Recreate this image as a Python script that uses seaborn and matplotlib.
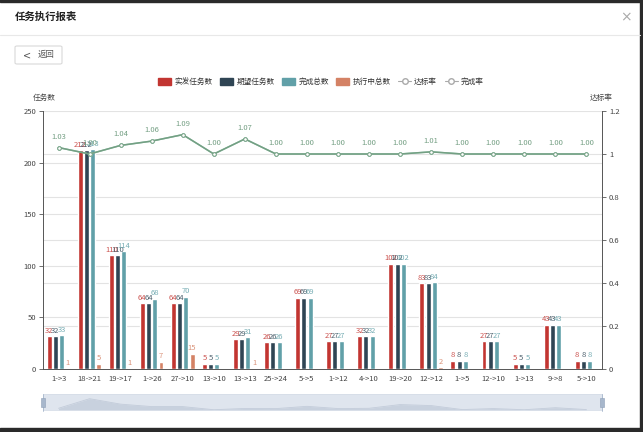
import numpy as np
import pandas as pd
import matplotlib
matplotlib.use("Agg")
import matplotlib.pyplot as plt
from matplotlib.patches import Rectangle, FancyBboxPatch, Patch
from matplotlib.lines import Line2D
import seaborn as sns

categories = ["1->3", "18->21", "19->17", "1->26", "27->10", "13->10", "13->13", "25->24", "5->5",
              "1->12", "4->10", "19->20", "12->12", "1->5", "12->10", "1->13", "9->8", "5->10"]
issued = [32, 212, 110, 64, 64, 5, 29, 26, 69, 27, 32, 102, 83, 8, 27, 5, 43, 8]
expected = [32, 212, 110, 64, 64, 5, 29, 26, 69, 27, 32, 102, 83, 8, 27, 5, 43, 8]
completed = [33, 213, 114, 68, 70, 5, 31, 26, 69, 27, 32, 102, 84, 8, 27, 5, 43, 8]
running = [1, 5, 1, 7, 15, 0, 1, 0, 0, 0, 0, 0, 2, 0, 0, 0, 0, 0]
reach_rate = [1.03, 1.00, 1.04, 1.06, 1.09, 1.00, 1.07, 1.00, 1.00, 1.00, 1.00, 1.00, 1.01, 1.00, 1.00, 1.00, 1.00, 1.00]
finish_rate = [1.03, 1.00, 1.04, 1.06, 1.09, 1.00, 1.07, 1.00, 1.00, 1.00, 1.00, 1.00, 1.01, 1.00, 1.00, 1.00, 1.00, 1.00]
bar_series = ["实发任务数", "期望任务数", "完成总数", "执行中总数"]
line_series = ["达标率", "完成率"]
left_ticks = [0, 50, 100, 150, 200, 250]
right_ticks = [0, 0.2, 0.4, 0.6, 0.8, 1.0, 1.2]

bar_colors = ["#c23531", "#2f4554", "#61a0a8", "#d48265"]
line_colors = ["#91c7ae", "#749f83"]

sns.set_style("white")
plt.rcParams["font.family"] = ["Noto Sans CJK SC", "DejaVu Sans"]
plt.rcParams["axes.unicode_minus"] = False

W, H = 643, 432
fig = plt.figure(figsize=(W / 100, H / 100), dpi=100)
fig.patch.set_facecolor("white")

def fx(px):
    return px / W

def fy(py):
    return 1 - py / H

# dark screenshot frame
fig.patches.append(Rectangle((fx(640), 0), 1, 1, transform=fig.transFigure, color="#2a2a2a", zorder=0))
fig.patches.append(Rectangle((0, 0), 1, fy(428), transform=fig.transFigure, color="#2a2a2a", zorder=0))
fig.patches.append(Rectangle((0, fy(2)), 1, 1, transform=fig.transFigure, color="#2a2a2a", zorder=0))

# header
fig.text(fx(15), fy(17), "任务执行报表", fontsize=7.5, fontweight="bold", color="#222", va="center", ha="left")
fig.text(fx(626), fy(17), "×", fontsize=10, color="#aaa", va="center", ha="center", family=["DejaVu Sans"])
fig.lines.append(Line2D([0, fx(640)], [fy(35), fy(35)], transform=fig.transFigure, color="#e8e8e8", lw=0.8))

# back button
fig.patches.append(FancyBboxPatch((fx(15), fy(64)), fx(47), 18 / H, boxstyle="round,pad=0,rounding_size=0.003",
                                  transform=fig.transFigure, facecolor="white", edgecolor="#d9d9d9", lw=0.8))
fig.text(fx(27), fy(55), "<", fontsize=7, color="#555", va="center", ha="center", family=["DejaVu Sans"])
fig.text(fx(46), fy(55), "返回", fontsize=6, color="#555", va="center", ha="center")

# main axes
ax = fig.add_axes([fx(43), fy(369), fx(602) - fx(43), (369 - 111) / H])
df = pd.DataFrame({
    "cat": categories * 4,
    "val": issued + expected + completed + running,
    "series": sum([[s] * len(categories) for s in bar_series], []),
})
sns.barplot(data=df, x="cat", y="val", hue="series", order=categories, hue_order=bar_series,
            palette=bar_colors, saturation=1, width=0.8, gap=0.2, ax=ax, legend=False, zorder=3)

for cont, col in zip(ax.containers, bar_colors):
    vals = cont.datavalues
    labels = ["" if v == 0 else f"{int(v)}" for v in vals]
    ax.bar_label(cont, labels=labels, fontsize=5.5, color=col, padding=1, alpha=0.85)

ax.set_ylim(0, 250)
ax.set_xlim(-0.5, len(categories) - 0.5)
ax.set_yticks(left_ticks)
ax.set_xlabel("")
ax.set_ylabel("")
ax.set_xticks(range(len(categories)))
ax.set_xticklabels(categories)
ax.set_xticks(np.arange(-0.5, len(categories), 1), minor=True)
ax.tick_params(axis="x", which="major", length=0, labelsize=5.5, labelcolor="#444", pad=4)
ax.tick_params(axis="x", which="minor", length=3, color="#555", width=0.6)
ax.tick_params(axis="y", labelsize=5.5, labelcolor="#444", length=3, color="#555", width=0.6, pad=2)
for s in ["top", "right"]:
    ax.spines[s].set_visible(False)
for s in ["left", "bottom"]:
    ax.spines[s].set_color("#555")
    ax.spines[s].set_linewidth(0.7)
# grid lines for both axes
for t in left_ticks[1:]:
    ax.axhline(t, color="#e3e3e3", lw=0.8, zorder=0)
for t in right_ticks[1:-1]:
    ax.axhline(t / right_ticks[-1] * left_ticks[-1], color="#e3e3e3", lw=0.8, zorder=0)
ax.patch.set_alpha(0)

ax2 = ax.twinx()
x = np.arange(len(categories))
ax2.plot(x, reach_rate, color=line_colors[0], lw=1.1, marker="o", ms=2.6, mfc="white", mew=0.7, zorder=5)
ax2.plot(x, finish_rate, color=line_colors[1], lw=1.1, marker="o", ms=2.6, mfc="white", mew=0.7, zorder=6)
for xi, v in zip(x, finish_rate):
    ax2.annotate(f"{v:.2f}", (xi, v), xytext=(0, 5), textcoords="offset points",
                 ha="center", va="bottom", fontsize=5.5, color="#749f83")
ax2.set_ylim(0, 1.2)
ax2.set_yticks(right_ticks)
ax2.set_yticklabels(["0", "0.2", "0.4", "0.6", "0.8", "1", "1.2"])
ax2.tick_params(axis="y", labelsize=5.5, labelcolor="#444", length=3, color="#555", width=0.6, pad=2)
for s in ["top", "left", "bottom"]:
    ax2.spines[s].set_visible(False)
ax2.spines["right"].set_color("#555")
ax2.spines["right"].set_linewidth(0.7)
ax2.grid(False)
ax.grid(False)

fig.text(fx(44), fy(98), "任务数", fontsize=5.5, color="#444", ha="center", va="center")
fig.text(fx(601), fy(98), "达标率", fontsize=5.5, color="#444", ha="center", va="center")

# legend
handles = [Patch(facecolor=c, edgecolor=c, label=l) for c, l in zip(bar_colors, bar_series)]
handles += [Line2D([], [], color="#aaa", lw=0.8, marker="o", ms=4, mfc="white", mec="#aaa", label=l)
            for l in line_series]
fig.legend(handles=handles, loc="center", bbox_to_anchor=(fx(321), fy(82)), ncol=6, frameon=False,
           fontsize=5.5, handlelength=1.7, handleheight=0.9, handletextpad=0.4, columnspacing=1.0,
           labelcolor="#333")

# data zoom slider
axz = fig.add_axes([fx(43), fy(410), fx(602) - fx(43), 16 / H])
axz.set_facecolor("#dfe5ee")
axz.fill_between(x, 0, issued, color="#c8d1de", lw=0)
axz.plot(x, issued, color="#c3ccda", lw=0.6)
axz.set_xlim(-0.5, len(categories) - 0.5)
axz.set_ylim(0, 300)
axz.set_xticks([])
axz.set_yticks([])
for s in axz.spines.values():
    s.set_color("#d6dde8")
    s.set_linewidth(0.6)
for hx in [43, 602]:
    fig.patches.append(Rectangle((fx(hx - 2), fy(407)), 4 / W, 9 / H, transform=fig.transFigure,
                                 facecolor="#a7b7cc", edgecolor="#8fa0b8", lw=0.4, zorder=5))
    fig.lines.append(Line2D([fx(hx), fx(hx)], [fy(411), fy(394)], transform=fig.transFigure,
                            color="#a7b7cc", lw=0.6, zorder=5))

fig.savefig("out.png", dpi=100, facecolor=fig.get_facecolor())
